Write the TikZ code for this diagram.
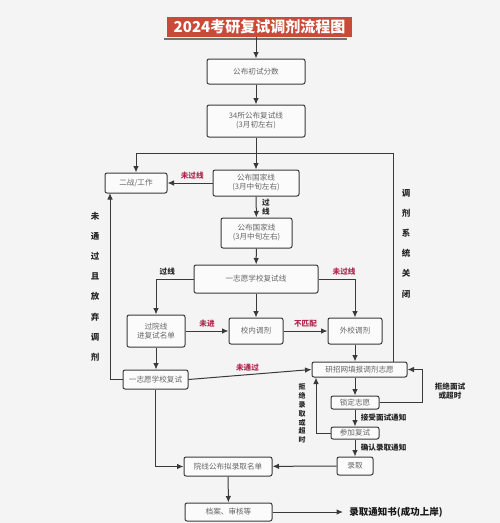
\documentclass[tikz,border=0pt]{standalone}
\usepackage{fontspec}
\setmainfont{Noto Sans CJK SC}
\usetikzlibrary{arrows.meta,positioning}
\definecolor{titlered}{HTML}{C94A38}
\definecolor{lblred}{HTML}{B0264C}
\definecolor{edge}{HTML}{3A3A3A}
\definecolor{bg}{HTML}{F4F4F4}

\begin{document}
\begin{tikzpicture}[
  x=1pt, y=-1pt,
  box/.style={draw=edge, line width=1pt, rounded corners=2pt, fill=white!60!bg,
    text=black!60, font=\fontsize{7.6}{9}\selectfont, align=center, inner sep=0pt},
  arr/.style={-{Latex[length=6.5pt,width=5.5pt]}, draw=edge, line width=1pt},
  ln/.style={draw=edge, line width=1pt},
  nolbl/.style={text=lblred, font=\fontsize{7.6}{9}\selectfont\bfseries},
  oklbl/.style={text=black!85, font=\fontsize{7.6}{9}\selectfont\bfseries, align=center},
  vtext/.style={text=black!85, font=\bfseries, align=center}
]
  \fill[bg] (0,0) rectangle (500,523);
  \useasboundingbox (0,0) rectangle (500,523);

  % title
  \draw[line width=2pt, black!55] (164,38.5) -- (347,38.5);
  \node[fill=titlered, text=white, font=\fontsize{15}{16}\selectfont\bfseries,
    minimum width=185pt, minimum height=20pt, inner sep=0pt] (title) at (259.5,27) {2024考研复试调剂流程图};

  % main column
  \node[box, minimum width=98pt, minimum height=25pt] (pub) at (256,71.5) {公布初试分数};
  \node[box, minimum width=98pt, minimum height=32pt] (line34) at (256,121) {34所公布复试线\\(3月初左右)};
  \node[box, minimum width=62pt, minimum height=20pt] (erzhan) at (136,183) {二战/工作};
  \node[box, minimum width=86pt, minimum height=26pt] (guojia1) at (256,183) {公布国家线\\(3月中旬左右)};
  \node[box, minimum width=71pt, minimum height=30pt] (guojia2) at (256.5,233) {公布国家线\\(3月中旬左右)};
  \node[box, minimum width=124pt, minimum height=28pt] (yizhi) at (256,279) {一志愿学校复试线};
  \node[box, minimum width=58pt, minimum height=32pt] (guoyuan) at (156,331) {过院线\\进复试名单};
  \node[box, minimum width=54pt, minimum height=26pt] (xiaonei) at (256,331) {校内调剂};
  \node[box, minimum width=54pt, minimum height=26pt] (waixiao) at (355,331) {外校调剂};
  \node[box, minimum width=65pt, minimum height=19pt] (fushi) at (155.5,379.5) {一志愿学校复试};

  % adjustment column
  \node[box, minimum width=95pt, minimum height=15pt] (yanzhao) at (359.5,369.5) {研招网填报调剂志愿};
  \node[box, minimum width=48pt, minimum height=13pt] (suoding) at (355,402.5) {锁定志愿};
  \node[box, minimum width=48pt, minimum height=12pt] (canjia) at (355,433) {参加复试};
  \node[box, minimum width=36pt, minimum height=18pt] (luqu) at (355,466) {录取};
  \node[box, minimum width=88pt, minimum height=19pt] (yuanxian) at (228,466.5) {院线公布拟录取名单};
  \node[box, minimum width=87pt, minimum height=18pt] (dangan) at (228.5,512) {档案、审核等};
  \node[text=black!90, font=\fontsize{9.5}{10}\selectfont\bfseries, inner sep=0pt] (offer) at (396,512) {录取通知书(成功上岸)};

  \coordinate (split) at (256,153);
  \coordinate (sysclose) at (393,153);
  \coordinate (back) at (110,193);
  \coordinate (rj) at (422,369.5);
  \coordinate (lj) at (316,400);

  \draw[arr] (title.south -| pub.north) -- (pub);
  \draw[arr] (pub) -- (line34);
  \draw[ln] (line34) -- (split);
  \draw[arr] (split) -- (guojia1);
  \draw[arr] (split) -| (erzhan.north);
  \draw[ln] (split) -- (sysclose) -- (sysclose |- yanzhao.north);
  \draw[arr] (guojia1) -- node[nolbl, above, pos=0.45] {未过线} (erzhan);
  \draw[arr] (guojia1) -- node[oklbl, right=2pt] {过\\线} (guojia2);
  \draw[arr] (guojia2) -- (yizhi);
  \draw[arr] (yizhi.west) -| node[oklbl, above, pos=0.35] {过线} (guoyuan.north);
  \draw[arr] (yizhi.east) -| node[nolbl, above, pos=0.35] {未过线} (waixiao.north);
  \draw[arr] (yizhi) -- (xiaonei);
  \draw[arr] (guoyuan) -- node[nolbl, above] {未进} (xiaonei);
  \draw[arr] (xiaonei) -- node[nolbl, above] {不匹配} (waixiao);
  \draw[arr] (guoyuan.south) -- (guoyuan.south |- fushi.north);
  \draw[arr] (fushi.west) -| (back);
  \draw[arr] (fushi.east) -- node[nolbl, above, pos=0.48] {未通过} (yanzhao.west);
  \draw[arr] (waixiao.south) -- (waixiao.south |- yanzhao.north);
  \draw[arr] (yanzhao.south -| suoding.north) -- (suoding.north);
  \draw[arr] (suoding.east) -| (rj) -- (yanzhao.east);
  \draw[arr] (suoding) -- node[oklbl, right=2pt] {接受面试通知} (canjia);
  \draw[arr] (canjia.west) -| (lj |- yanzhao.south);
  \draw[arr] (canjia) -- node[oklbl, right=2pt] {确认录取通知} (luqu);
  \draw[arr] (luqu) -- (yuanxian);
  \draw[arr] (fushi.south) |- (yuanxian.west);
  \draw[arr] (yuanxian) -- (dangan);
  \draw[arr] (dangan) -- (offer.west -| 343,0);

  % side notes
  \node[vtext, font=\fontsize{8.5}{20.2}\selectfont\bfseries] (giveup) at (95,286.5) {未\\通\\过\\且\\放\\弃\\调\\剂};
  \node[vtext, font=\fontsize{8.5}{20.2}\selectfont\bfseries] (closed) at (406,243.5) {调\\剂\\系\\统\\关\\闭};
  \node[vtext, font=\fontsize{7}{8.8}\selectfont\bfseries] (refuse) at (302,413.5) {拒\\绝\\录\\取\\或\\超\\时};
  \node[oklbl] (refusemian) at (450,391) {拒绝面试\\或超时};
\end{tikzpicture}
\end{document}
